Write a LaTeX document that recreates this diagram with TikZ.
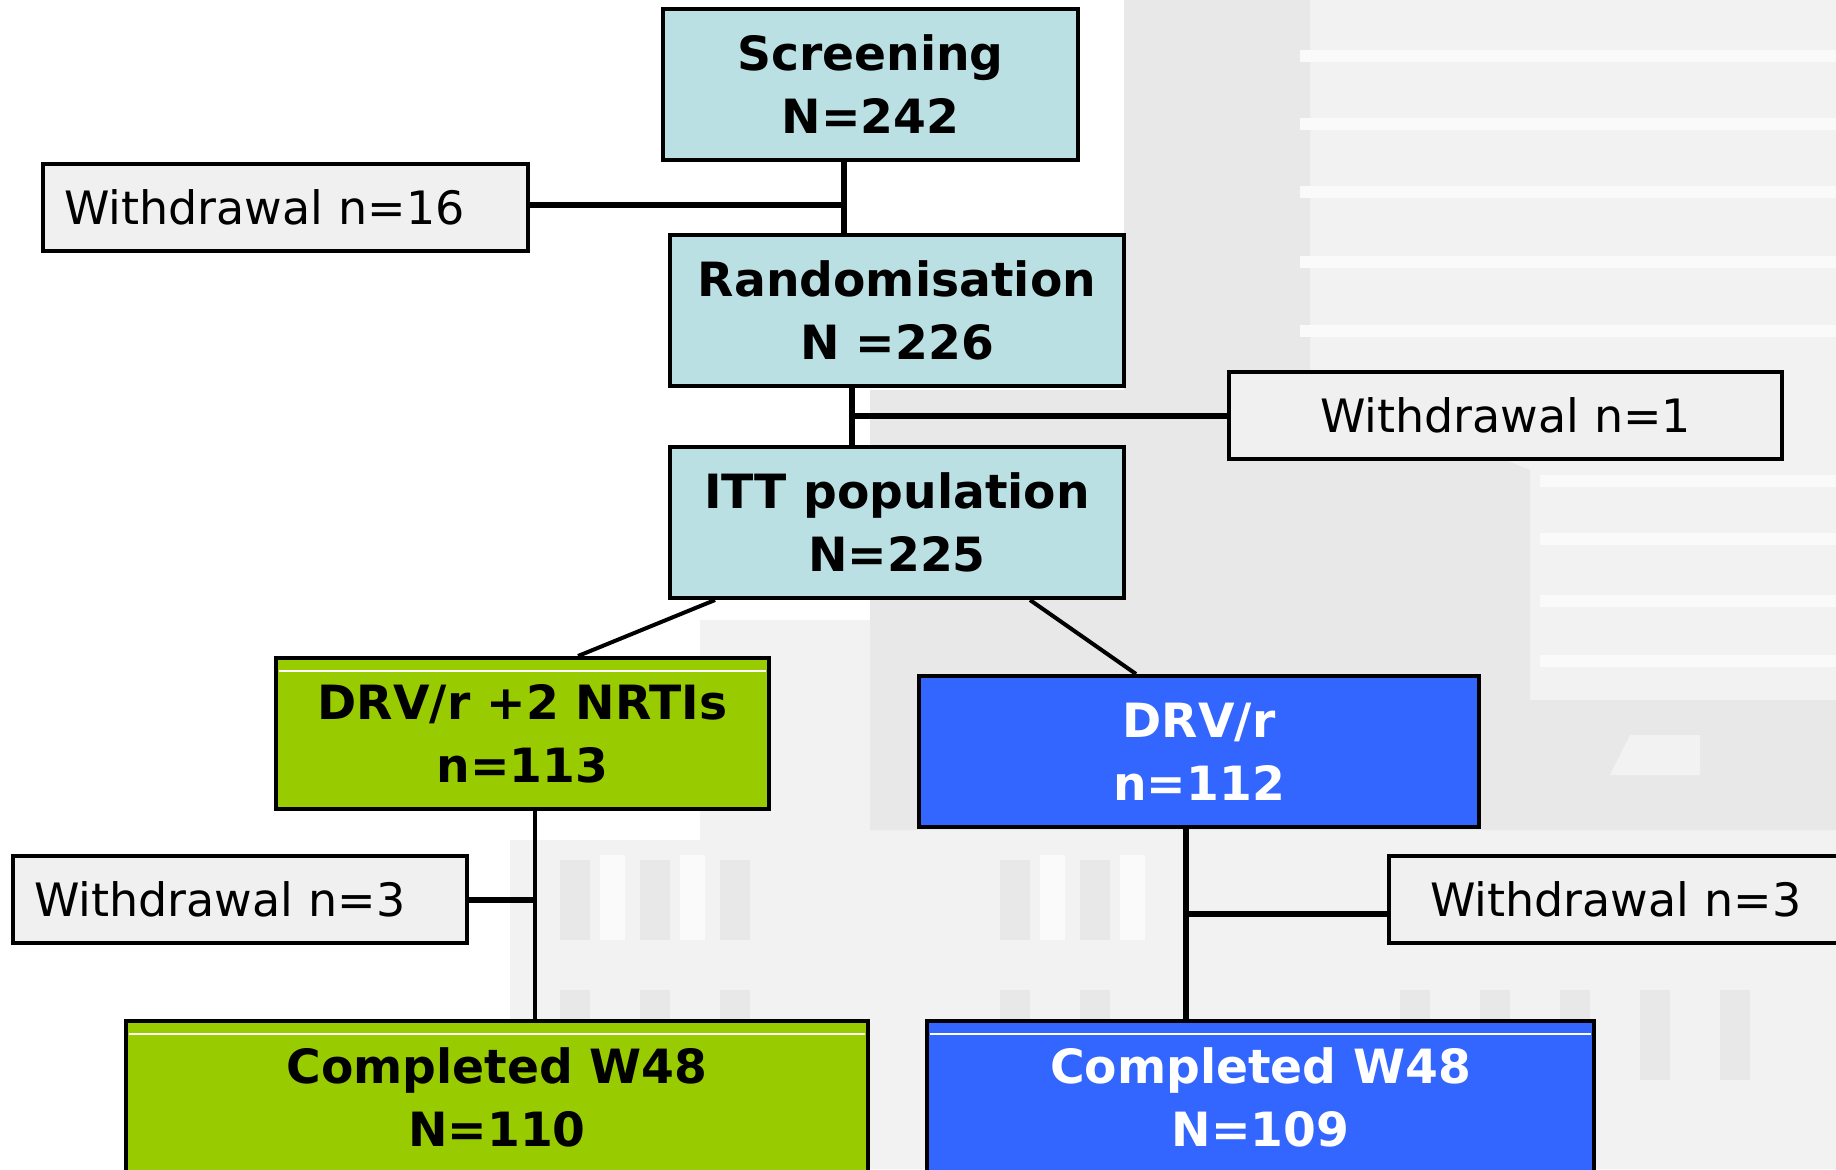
\documentclass[tikz,border=0pt]{standalone}
\usepackage{fontspec}
\setmainfont{DejaVu Sans}
\usetikzlibrary{calc}

\definecolor{stagefill}{HTML}{BBE0E3}
\definecolor{armgreen}{HTML}{99CC00}
\definecolor{armblue}{HTML}{3366FF}
\definecolor{wdfill}{HTML}{F0F0F0}
\definecolor{hazeA}{HTML}{F2F2F2}
\definecolor{hazeB}{HTML}{E8E8E8}
\definecolor{hazeC}{HTML}{FAFAFA}

\begin{document}
\begin{tikzpicture}[x=0.5pt,y=-0.5pt,
  box/.style={draw=black, line width=2pt, rectangle, inner sep=0pt,
    align=center, font=\fontsize{23.6}{31.5}\selectfont\bfseries},
  stage/.style={box, fill=stagefill, minimum height=75.5pt},
  armA/.style={box, fill=armgreen, minimum height=75.5pt},
  armB/.style={box, fill=armblue, text=white, minimum height=75.5pt},
  wdbox/.style={draw=black, line width=2pt, rectangle, fill=wdfill,
    inner ysep=0pt, minimum height=43.5pt,
    font=\fontsize{23}{28}\selectfont},
  link/.style={draw=black, line width=2.6pt},
  thinlink/.style={draw=black, line width=2pt},
  rule/.style={draw=white, line width=0.7pt}
]
\useasboundingbox (0,0) rectangle (1836,1169);
\fill[white] (0,0) rectangle (1836,1169);

% faded backdrop on the right-hand side
\fill[hazeA] (1124,0) -- (1836,0) -- (1836,1169) -- (510,1169) -- (510,840)
  -- (700,840) -- (700,620) -- (870,620) -- (870,390) -- (1124,390) -- cycle;
\fill[hazeB] (1124,0) -- (1310,0) -- (1310,380) -- (1530,470) -- (1530,700)
  -- (1836,700) -- (1836,830) -- (870,830) -- (870,390) -- (1124,390) -- cycle;
\foreach \yy in {50,118,186,256,325}
  \fill[hazeC] (1300,\yy) rectangle (1836,\yy+12);
\foreach \yy in {475,533,595,655}
  \fill[hazeC] (1540,\yy) rectangle (1836,\yy+12);
\fill[hazeA] (1630,735) -- (1700,735) -- (1700,775) -- (1610,775) -- cycle;
\foreach \xx in {560,640,720,1000,1080,1400,1480,1560,1640,1720}{
  \fill[hazeB] (\xx,860) rectangle (\xx+30,940);
  \fill[hazeB] (\xx,990) rectangle (\xx+30,1080);
}
\foreach \xx in {600,680,1040,1120,1520,1600,1680}{
  \fill[hazeC] (\xx,855) rectangle (\xx+25,940);
}

% main flow
\node[stage, minimum width=207.5pt] (scr) at (870.5,84.5) {Screening\\N=242};
\node[stage, minimum width=227pt] (rnd) at (897,310.5) {Randomisation\\N =226};
\node[stage, minimum width=227pt] (itt) at (897,522.5) {ITT population\\N=225};

% withdrawals
\node[wdbox, inner xsep=10.5pt, text width=221.5pt, align=left] (wd16) at (285.5,207) {Withdrawal n=16};
\node[wdbox, minimum width=276.5pt, inner xsep=0pt, align=center] (wd1) at (1505.5,415.5) {Withdrawal n=1};
\node[wdbox, inner xsep=10.5pt, text width=206pt, align=left] (wd3a) at (240,899.5) {Withdrawal n=3};
\node[wdbox, inner xsep=20.5pt, text width=199.5pt, align=left] (wd3b) at (1629.5,899.5) {Withdrawal n=3};

% treatment arms
\node[armA, minimum width=246.5pt] (arm1) at (522.5,733.5) {DRV/r +2 NRTIs\\n=113};
\node[armB, minimum width=280pt] (arm2) at (1199,751.5) {DRV/r\\n=112};

% completers
\node[armA, minimum width=371pt, minimum height=76.5pt] (done1) at (497,1097.5) {Completed W48\\N=110};
\node[armB, minimum width=333.5pt, minimum height=76.5pt] (done2) at (1260.5,1097.5) {Completed W48\\N=109};

% highlight rules under the top edge
\draw[rule] ($(arm1.north west)+(5,15)$) -- ($(arm1.north east)+(-5,15)$);
\draw[rule] ($(done1.north west)+(5,15)$) -- ($(done1.north east)+(-5,15)$);
\draw[rule] ($(done2.north west)+(5,15)$) -- ($(done2.north east)+(-5,15)$);

% junction points
\coordinate (j1) at (844,205);
\coordinate (j2) at (852,416);
\coordinate (j3) at (535,900);
\coordinate (j4) at (1186,914);

% connectors
\draw[link] (scr.south -| j1) -- (rnd.north -| j1);
\draw[link] (wd16.east |- j1) -- (j1);
\draw[link] (rnd.south -| j2) -- (itt.north -| j2);
\draw[link] (j2) -- (wd1.west |- j2);
\draw[thinlink] ($(itt.south west)+(47,0)$) -- ($(arm1.north west)+(304,0)$);
\draw[thinlink] ($(itt.south west)+(362,0)$) -- ($(arm2.north west)+(219,0)$);
\draw[thinlink] (arm1.south -| j3) -- (done1.north -| j3);
\draw[link] (wd3a.east |- j3) -- (j3);
\draw[link] (arm2.south -| j4) -- (done2.north -| j4);
\draw[link] (j4) -- (wd3b.west |- j4);
\end{tikzpicture}
\end{document}
